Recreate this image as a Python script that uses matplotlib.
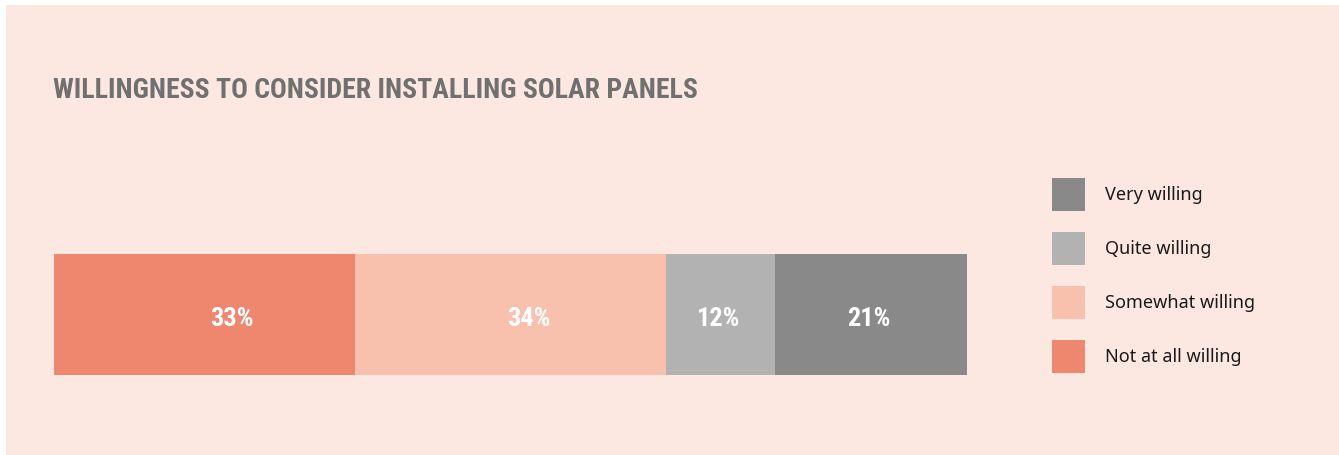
import matplotlib.pyplot as plt
from matplotlib.patches import Rectangle
from matplotlib import font_manager as fm

# survey shares, left to right along the bar
categories = ["Not at all willing", "Somewhat willing", "Quite willing", "Very willing"]
shares = [33, 34, 12, 21]
colors = ["#EF866E", "#F8C1AE", "#B2B2B2", "#898989"]
label_at = [0.59, 0.56, 0.48, 0.49]  # where each value sits inside its segment

title = "WILLINGNESS TO CONSIDER INSTALLING SOLAR PANELS"

W, H = 1339, 456

names = {f.name for f in fm.fontManager.ttflist}
condensed = [n for n in ["Roboto Condensed", "DejaVu Sans Condensed",
                         "Liberation Sans Narrow", "Open Sans Condensed"] if n in names]
narrow = condensed + ["DejaVu Sans"]

fig = plt.figure(figsize=(W / 100, H / 100), dpi=100, facecolor="white")
fig.patches.append(Rectangle((6 / W, 0), 1, 1 - 6 / H, transform=fig.transFigure,
                             facecolor="#FCE8E1", edgecolor="none", zorder=-10))

fig.text(53 / W, 1 - 90 / H, title, family=narrow, fontweight="bold",
         fontstretch="condensed", fontsize=20, color="#707070",
         va="center", ha="left")

ax = fig.add_axes([54 / W, 80 / H, 913 / W, 121 / H])
ax.set_axis_off()

left = 0
for val, col, pos in zip(shares, colors, label_at):
    ax.barh(0, val, left=left, height=1, color=col, edgecolor="none")
    ax.text(left + val * pos, -0.03, f"{val}%", family=narrow, fontweight="bold",
            fontstretch="condensed", fontsize=19, color="white",
            ha="center", va="center")
    left += val

ax.set_xlim(0, sum(shares))
ax.set_ylim(-0.5, 0.5)

# legend, top row first
lg = fig.add_axes([0, 0, 1, 1])
lg.set_axis_off()
lg.set_xlim(0, W)
lg.set_ylim(H, 0)
for i, (cat, col) in enumerate(zip(categories[::-1], colors[::-1])):
    y = 179 + i * 54
    lg.add_patch(Rectangle((1052, y), 33, 33, facecolor=col, edgecolor="none"))
    lg.text(1105, y + 16.5, cat, family="Noto Sans", fontweight="medium",
            fontsize=13, color="#1a1a1a", va="center", ha="left")

fig.savefig("out.png", dpi=100, facecolor=fig.get_facecolor())
